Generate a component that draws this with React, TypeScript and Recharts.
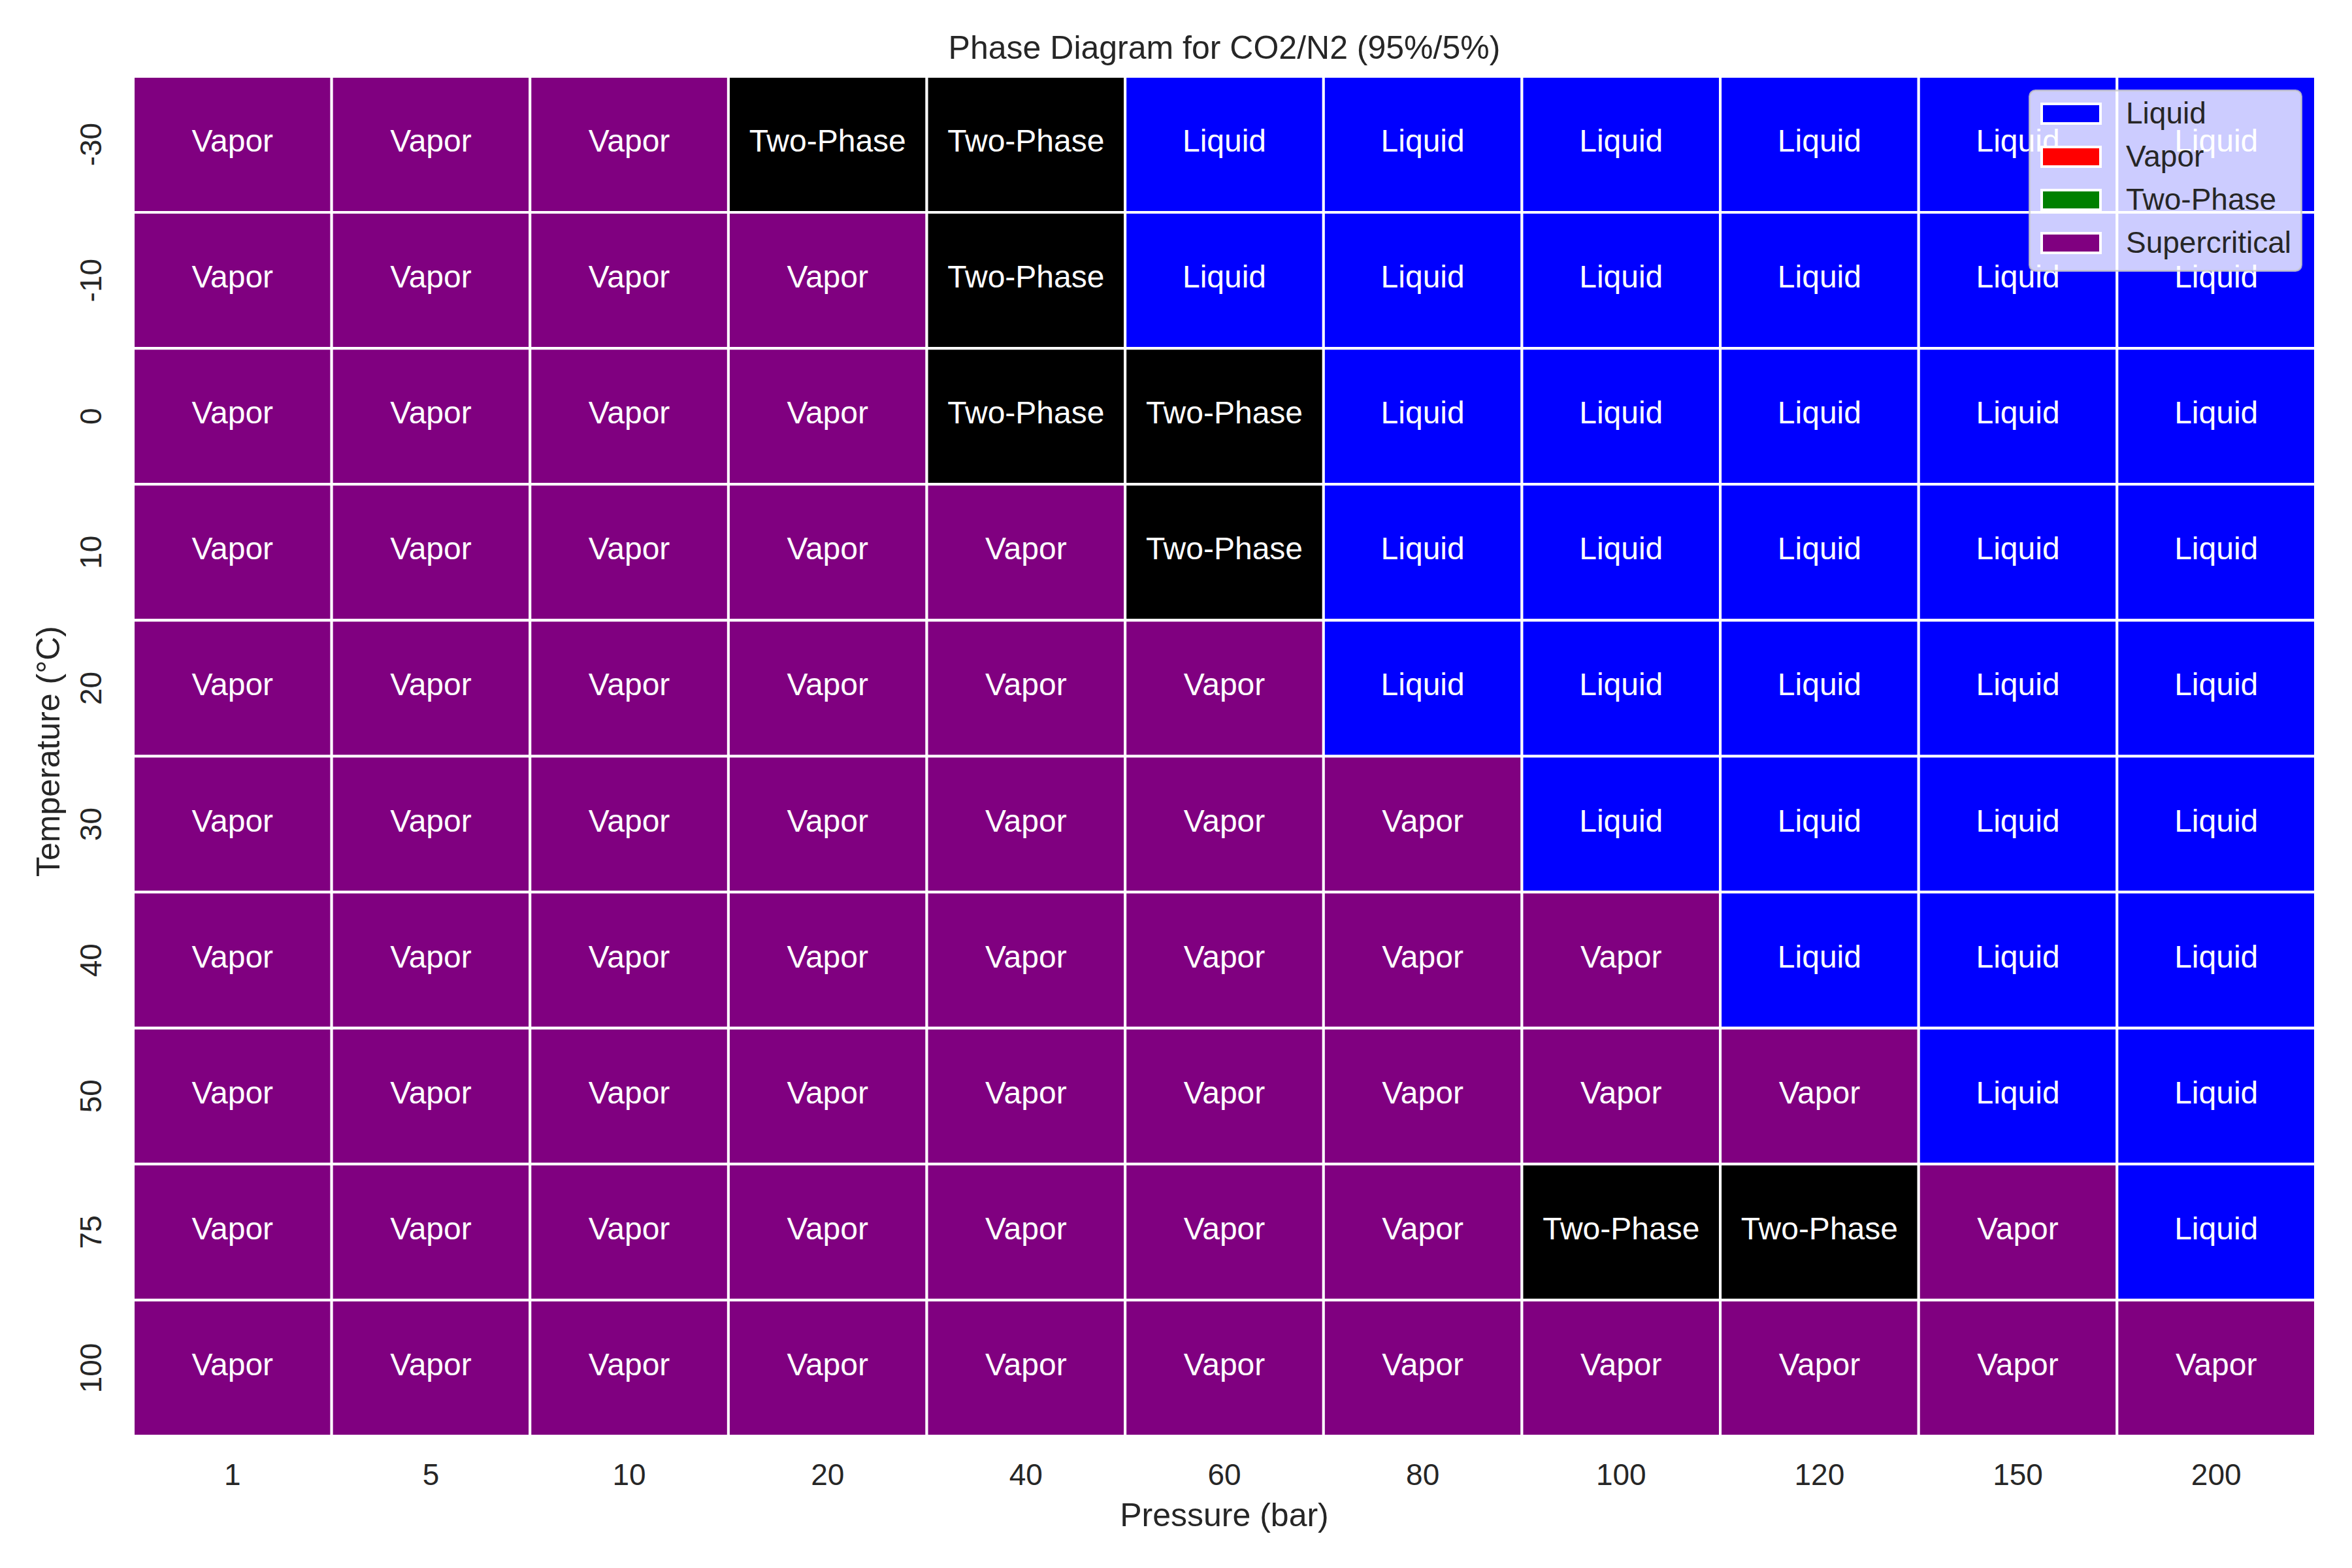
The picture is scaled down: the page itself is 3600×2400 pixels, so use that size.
import { BarChart, Bar, XAxis, YAxis, Cell, LabelList, Legend } from 'recharts';

// тип фазы в ячейке: V - пар, T - двухфазная, L - жидкость
const pressures = [1, 5, 10, 20, 40, 60, 80, 100, 120, 150, 200];
const temperatures = [-30, -10, 0, 10, 20, 30, 40, 50, 75, 100];
const phaseRows = [
    'VVVTTLLLLLL',
    'VVVVTLLLLLL',
    'VVVVTTLLLLL',
    'VVVVVTLLLLL',
    'VVVVVVLLLLL',
    'VVVVVVVLLLL',
    'VVVVVVVVLLL',
    'VVVVVVVVVLL',
    'VVVVVVVTTVL',
    'VVVVVVVVVVV',
];
const phaseNames: Record<string, string> = { V: 'Vapor', T: 'Two-Phase', L: 'Liquid' };
const phaseColors: Record<string, string> = { V: '#800080', T: '#000000', L: '#0000ff' };

// легенда в оригинале не совпадает с цветами ячеек - оставляем как есть
const legendNames = ['Liquid', 'Vapor', 'Two-Phase', 'Supercritical'];
const legendColors = ['#0000ff', '#ff0000', '#008000', '#800080'];

const W = 3600;
const H = 2400;
const plotTop = 117;
const plotBottom = 2198;
const plotLeft = 204;
const plotRight = 3544;
const FONT = '"Liberation Sans", Arial, sans-serif';
const DARK = '#262626';

const rows = temperatures.map((t, i) => {
    const row: Record<string, string | number> = { temp: String(t) };
    pressures.forEach((_, j) => {
        row[`c${j}`] = 1;
        row[`l${j}`] = phaseNames[phaseRows[i][j]];
    });
    return row;
});

const CellLabel = (props: any) => {
    const { x, y, width, height, value } = props;
    return (
        <text x={x + width / 2} y={y + height / 2 + 11} textAnchor="middle" fill="#fff"
              fontSize={48} fontFamily={FONT}>
            {value}
        </text>
    );
};

const XTick = (props: any) => {
    const { x, payload } = props;
    const idx = Math.floor(payload.value);
    return (
        <text x={x} y={plotBottom + 75} textAnchor="middle" fill={DARK} fontSize={46} fontFamily={FONT}>
            {pressures[idx]}
        </text>
    );
};

const YTick = (props: any) => {
    const { y, payload } = props;
    const tx = 155;
    return (
        <text x={tx} y={y} transform={`rotate(-90, ${tx}, ${y})`} textAnchor="middle" fill={DARK}
              fontSize={46} fontFamily={FONT}>
            {payload.value}
        </text>
    );
};

const LegendBox = () => (
    <svg width={419} height={279}>
        <rect x={1.5} y={1.5} width={416} height={276} rx={9} fill="#fff" fillOpacity={0.8}
              stroke="#cccccc" strokeOpacity={0.8} strokeWidth={3} />
        {legendNames.map((name, k) => (
            <g key={name}>
                <rect x={20} y={22 + 66 * k} width={90} height={30} fill={legendColors[k]} stroke="#fff" strokeWidth={4} />
                <text x={149} y={52 + 66 * k} fill={DARK} fontSize={46} fontFamily={FONT}>{name}</text>
            </g>
        ))}
    </svg>
);

export default function App() {
    const yAxisW = 130;
    const xAxisH = 100;
    return (
        <div style={{ position: 'absolute', left: 0, top: 0, width: W, height: H, background: '#fff' }}>
            <BarChart
                width={W}
                height={H}
                layout="vertical"
                data={rows}
                barCategoryGap={0}
                margin={{ top: plotTop, right: W - plotRight, bottom: H - plotBottom - xAxisH, left: plotLeft - yAxisW }}
            >
                <XAxis type="number" domain={[0, pressures.length]} ticks={pressures.map((_, i) => i + 0.5)}
                       axisLine={false} tickLine={false} height={xAxisH} tick={<XTick />} interval={0} />
                <YAxis type="category" dataKey="temp" width={yAxisW} axisLine={false} tickLine={false}
                       tick={<YTick />} interval={0} />
                {pressures.map((p, j) => (
                    <Bar key={p} dataKey={`c${j}`} stackId="grid" isAnimationActive={false} stroke="#fff" strokeWidth={4}>
                        {rows.map((_, i) => (
                            <Cell key={i} fill={phaseColors[phaseRows[i][j]]} />
                        ))}
                        <LabelList dataKey={`l${j}`} content={<CellLabel />} />
                    </Bar>
                ))}
                <Legend layout="vertical" align="center" verticalAlign="middle" content={<LegendBox />}
                        wrapperStyle={{ left: 3105, top: 137, width: 419, height: 279 }} />
            </BarChart>
            <svg width={W} height={H} style={{ position: 'absolute', left: 0, top: 0, pointerEvents: 'none' }}>
                <text x={(plotLeft + plotRight) / 2} y={90} textAnchor="middle" fill={DARK} fontSize={50} fontFamily={FONT}>
                    Phase Diagram for CO2/N2 (95%/5%)
                </text>
                <text x={(plotLeft + plotRight) / 2} y={2336} textAnchor="middle" fill={DARK} fontSize={50} fontFamily={FONT}>
                    Pressure (bar)
                </text>
                <text x={91} y={1150} transform="rotate(-90, 91, 1150)" textAnchor="middle" fill={DARK} fontSize={50} fontFamily={FONT}>
                    Temperature (°C)
                </text>
            </svg>
        </div>
    );
}
